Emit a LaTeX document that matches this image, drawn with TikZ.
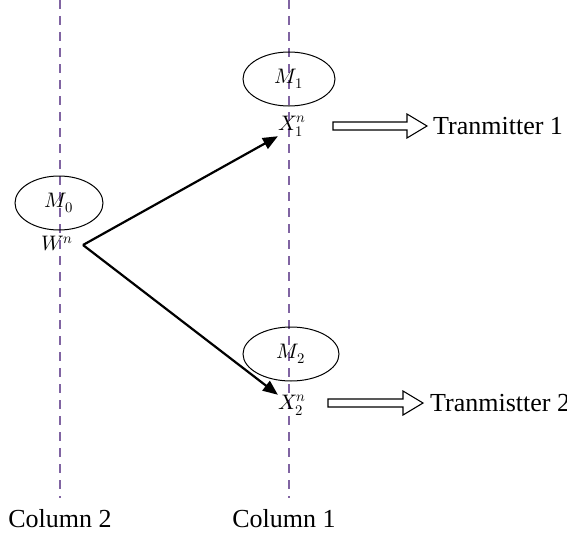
\documentclass[tikz,border=0pt]{standalone}
\usepackage{fontspec}
\usepackage{unicode-math}
\setmainfont{Liberation Serif}
\setmathfont{Latin Modern Math}
\usetikzlibrary{arrows.meta,shapes.geometric}
\definecolor{colline}{HTML}{8064A2}
\tikzset{
  colline/.style={draw=colline, line width=1.8pt, dash pattern=on 9pt off 7pt},
  msg/.style={draw, ellipse, line width=1pt, minimum width=#1, minimum height=54pt, inner sep=0pt, font=\fontsize{21}{24}\selectfont},
  var/.style={inner sep=0pt, font=\fontsize{21}{24}\selectfont},
  lbl/.style={inner sep=0pt, anchor=west, font=\fontsize{26}{30}\selectfont},
  collbl/.style={inner sep=0pt, font=\fontsize{26}{30}\selectfont},
  conn/.style={line width=2.2pt, -{Triangle[length=15pt,width=12pt]}},
  hollow/.style={draw, line width=1.1pt, fill=white, line join=miter}
}
\begin{document}
\begin{tikzpicture}[x=1pt,y=-1pt]
\useasboundingbox (0,0) rectangle (567,535);
% column lines
\coordinate (c2top) at (60,0);
\coordinate (c2bot) at (60,498);
\coordinate (c1top) at (289,0);
\coordinate (c1bot) at (289,498);
\draw[colline] (c2top) -- (c2bot);
\draw[colline] (c1top) -- (c1bot);
% nodes
\node[msg=88pt] (m0) at (59,203) {$M_0$};
\node[msg=92pt] (m1) at (289,79) {$M_1$};
\node[msg=96pt] (m2) at (291,354) {$M_2$};
\node[var] (w) at (57,244) {$W^n$};
\node[var] (x1) at (292,126) {$X_1^n$};
\node[var] (x2) at (292,405) {$X_2^n$};
% connectors
\coordinate (ws) at (83,245);
\draw[conn] (ws) -- (x1.south west);
\draw[conn] (ws) -- (x2.north west);
% hollow arrows
\coordinate (h1) at (333,126);
\coordinate (h2) at (328,403);
\draw[hollow] (h1) ++(0,-4) -- ++(74,0) -- ++(0,-8) -- ++(20,12) -- ++(-20,12) -- ++(0,-8) -- ++(-74,0) -- cycle;
\draw[hollow] (h2) ++(0,-4) -- ++(75,0) -- ++(0,-8) -- ++(20,12) -- ++(-20,12) -- ++(0,-8) -- ++(-75,0) -- cycle;
\node[lbl] (t1) at (433,126) {Tranmitter 1};
\node[lbl] (t2) at (430,403) {Tranmistter 2};
\node[collbl] (col2) at (60,519) {Column 2};
\node[collbl] (col1) at (284,519) {Column 1};
\end{tikzpicture}
\end{document}
